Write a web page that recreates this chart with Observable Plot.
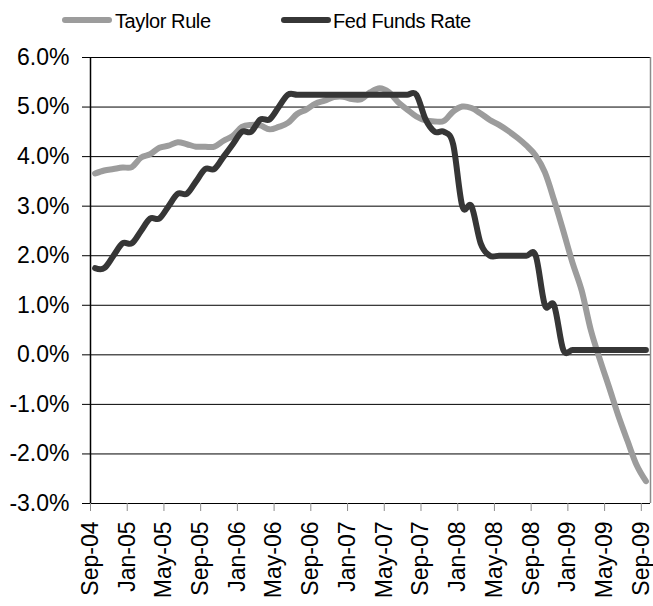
<!DOCTYPE html>
<html>
<head>
<meta charset="utf-8">
<script src="https://cdn.jsdelivr.net/npm/d3@7"></script>
<script src="https://cdn.jsdelivr.net/npm/@observablehq/plot@0.6"></script>
<style>
  body { margin: 0; background: #fff; font-family: "Liberation Sans", Arial, sans-serif; }
  #legend { position: relative; width: 653px; height: 40px; }
  .swatch { position: absolute; top: 17px; height: 6px; border-radius: 3px; }
  .label { position: absolute; top: 11px; font-size: 20px; line-height: 20px; letter-spacing: -0.4px; color: #000; white-space: nowrap; }
</style>
</head>
<body>
<div id="legend"></div>
<div id="chart"></div>
<script>
// Monthly observations, Sep-04 through Sep-09 (61 months)
const seriesNames = ["Taylor Rule", "Fed Funds Rate"];
const seriesColors = ["#9c9c9c", "#363636"];

const taylorRule = [
  3.66, 3.72, 3.75, 3.78, 3.79, 3.98, 4.05, 4.18, 4.22, 4.29,
  4.25, 4.20, 4.20, 4.20, 4.32, 4.42, 4.60, 4.64, 4.63, 4.55,
  4.60, 4.68, 4.86, 4.95, 5.07, 5.13, 5.20, 5.21, 5.16, 5.16,
  5.30, 5.38, 5.30, 5.10, 4.95, 4.81, 4.73, 4.71, 4.72, 4.91,
  5.01, 4.98, 4.87, 4.74, 4.64, 4.52, 4.38, 4.22, 4.02, 3.68,
  3.12, 2.50, 1.86, 1.30, 0.50, -0.10, -0.66, -1.23, -1.74, -2.23,
  -2.55
];

const fedFunds = [
  1.75, 1.75, 2.00, 2.25, 2.25, 2.50, 2.75, 2.75, 3.00, 3.25,
  3.25, 3.50, 3.75, 3.75, 4.00, 4.25, 4.50, 4.50, 4.75, 4.75,
  5.00, 5.25, 5.25, 5.25, 5.25, 5.25, 5.25, 5.25, 5.25, 5.25,
  5.25, 5.25, 5.25, 5.25, 5.25, 5.25, 4.75, 4.50, 4.50, 4.25,
  3.00, 3.00, 2.25, 2.00, 2.00, 2.00, 2.00, 2.00, 2.00, 1.00,
  1.00, 0.10, 0.10, 0.10, 0.10, 0.10, 0.10, 0.10, 0.10, 0.10,
  0.10
];

// Category labels shown every fourth month
const tickLabels = [
  "Sep-04", "Jan-05", "May-05", "Sep-05", "Jan-06", "May-06", "Sep-06", "Jan-07",
  "May-07", "Sep-07", "Jan-08", "May-08", "Sep-08", "Jan-09", "May-09", "Sep-09"
];
const tickMonths = [0, 4, 8, 12, 16, 20, 24, 28, 32, 36, 40, 44, 48, 52, 56, 60];
const yTicks = [-3, -2, -1, 0, 1, 2, 3, 4, 5, 6];

// Each month sits in the middle of its category slot
const toRows = (values) => values.map((v, i) => ({ month: i + 0.5, value: v }));
const taylorRows = toRows(taylorRule);
const fedRows = toRows(fedFunds);

// Legend
const legend = document.getElementById("legend");
const legendPos = [{ sw: 62, tx: 115 }, { sw: 281, tx: 333 }];
seriesNames.forEach((name, k) => {
  const sw = document.createElement("div");
  sw.className = "swatch";
  sw.style.left = legendPos[k].sw + "px";
  sw.style.width = "50px";
  sw.style.background = seriesColors[k];
  legend.appendChild(sw);
  const lb = document.createElement("div");
  lb.className = "label";
  lb.style.left = legendPos[k].tx + "px";
  lb.textContent = name;
  legend.appendChild(lb);
});

const lineOpts = (color) => ({
  x: "month", y: "value", curve: "cardinal", stroke: color,
  strokeWidth: 6, strokeLinecap: "round", strokeLinejoin: "round"
});

const chart = Plot.plot({
  width: 653,
  height: 566,
  marginLeft: 90,
  marginRight: 3,
  marginTop: 17,
  marginBottom: 103,
  style: { fontFamily: "'Liberation Sans', Arial, sans-serif", color: "#000", background: "#fff" },
  x: { type: "linear", domain: [0, 61], label: null },
  y: { domain: [-3, 6], label: null },
  marks: [
    Plot.gridY(yTicks, { stroke: "#000", strokeOpacity: 1, strokeWidth: 1 }),
    Plot.ruleX([61], { stroke: "#8c8c8c", strokeWidth: 1.5 }),
    Plot.ruleX([0], { stroke: "#000", strokeWidth: 1.5 }),
    Plot.axisY(yTicks, {
      label: null, tickSize: 8, tickPadding: 13, stroke: "#000", fontSize: 23,
      tickFormat: (d) => d.toFixed(1) + "%"
    }),
    Plot.axisX(tickMonths, {
      label: null, tickSize: 8, tickPadding: 10, tickRotate: -90, stroke: "#8c8c8c", fontSize: 23,
      tickFormat: (d) => tickLabels[d / 4]
    }),
    Plot.line(taylorRows, lineOpts(seriesColors[0])),
    Plot.line(fedRows, lineOpts(seriesColors[1]))
  ]
});
document.getElementById("chart").appendChild(chart);
</script>
</body>
</html>
